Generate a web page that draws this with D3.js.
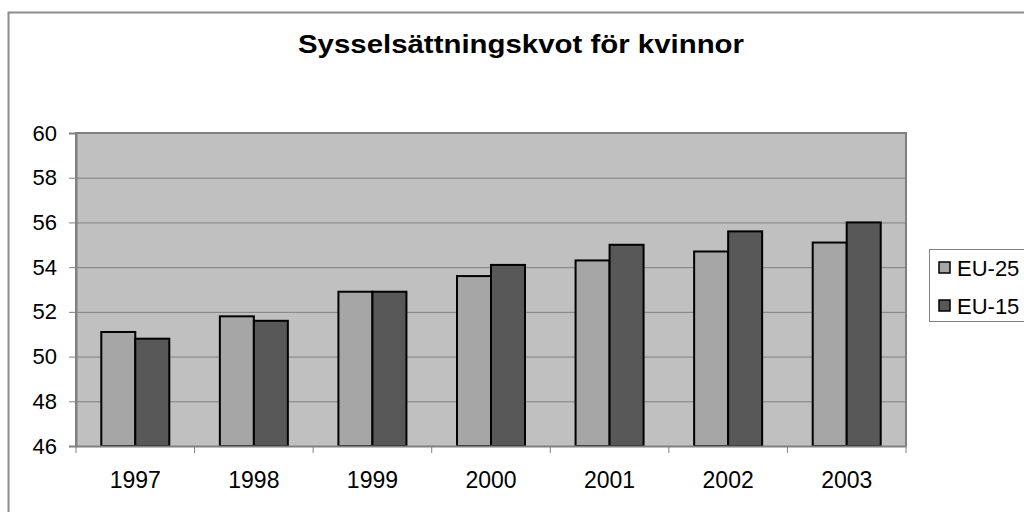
<!DOCTYPE html>
<html>
<head>
<meta charset="utf-8">
<script src="https://cdn.jsdelivr.net/npm/d3@7"></script>
<style>
  body { margin: 0; background: #fff; }
  svg { display: block; font-family: "Liberation Sans", Arial, sans-serif; }
</style>
</head>
<body>
<div id="chart"></div>
<script>
// Data
const years = ["1997", "1998", "1999", "2000", "2001", "2002", "2003"];
const seriesNames = ["EU-25", "EU-15"];
const eu25 = [51.1, 51.8, 52.9, 53.6, 54.3, 54.7, 55.1];
const eu15 = [50.8, 51.6, 52.9, 54.1, 55.0, 55.6, 56.0];
const yTicks = [46, 48, 50, 52, 54, 56, 58, 60];
const colors = ["#a6a6a6", "#585858"];

const width = 1024, height = 512;
const margin = { top: 133, right: 118, bottom: 66, left: 76 };

const rows = years.map((y, i) => ({ year: y, values: [eu25[i], eu15[i]] }));

const svg = d3.select("#chart").append("svg")
    .attr("width", width)
    .attr("height", height);

// outer chart border
svg.append("rect")
    .attr("x", 8.5).attr("y", 12.5)
    .attr("width", width + 10).attr("height", height + 10)
    .attr("fill", "none")
    .attr("stroke", "#8c8c8c")
    .attr("stroke-width", 2);

// scales
const x = d3.scaleBand().domain(years)
    .range([margin.left, width - margin.right]);

const x1 = d3.scaleBand().domain(seriesNames)
    .range([0, 68])
    .padding(0);

const y = d3.scaleLinear().domain([46, 60])
    .range([height - margin.bottom, margin.top]);

// plot area
svg.append("rect")
    .attr("x", margin.left).attr("y", margin.top)
    .attr("width", width - margin.left - margin.right)
    .attr("height", y(46) - y(60))
    .attr("fill", "#c0c0c0");

// gridlines
svg.append("g")
    .selectAll("line")
    .data(yTicks.slice(1))
    .join("line")
    .attr("x1", margin.left).attr("x2", width - margin.right)
    .attr("y1", d => y(d) + 0.5).attr("y2", d => y(d) + 0.5)
    .attr("stroke", "#808080")
    .attr("stroke-width", 1);

// bars
const groups = svg.append("g")
    .selectAll("g")
    .data(rows)
    .join("g")
    .attr("transform", d => `translate(${x(d.year) + (x.bandwidth() - 68) / 2},0)`);

groups.selectAll("rect")
    .data(d => d.values.map((v, i) => ({ key: seriesNames[i], value: v, i: i })))
    .join("rect")
    .attr("x", d => x1(d.key))
    .attr("y", d => y(d.value))
    .attr("width", x1.bandwidth())
    .attr("height", d => y(46) - y(d.value))
    .attr("fill", d => colors[d.i])
    .attr("stroke", "#000")
    .attr("stroke-width", 2);

// plot area frame (left/top/right gray)
svg.append("path")
    .attr("d", `M${margin.left},${y(46)}V${margin.top}H${width - margin.right}V${y(46)}`)
    .attr("fill", "none")
    .attr("stroke", "#808080")
    .attr("stroke-width", 2);

// y axis
const yAxis = svg.append("g")
    .attr("transform", `translate(${margin.left},0)`)
    .call(d3.axisLeft(y).tickValues(yTicks).tickSize(7).tickPadding(12).tickFormat(d3.format("d")));
yAxis.select(".domain").attr("stroke", "#808080").attr("stroke-width", 2);
yAxis.selectAll(".tick line").attr("stroke", "#808080");
yAxis.selectAll(".tick text")
    .attr("font-size", 22)
    .attr("font-family", "Liberation Sans, Arial, sans-serif")
    .attr("fill", "#000");

// x axis
const xAxis = svg.append("g")
    .attr("transform", `translate(0,${y(46)})`)
    .call(d3.axisBottom(x).tickSize(0).tickPadding(26));
xAxis.select(".domain").attr("stroke", "#808080").attr("stroke-width", 2);
xAxis.selectAll(".tick text")
    .attr("font-size", 23)
    .attr("font-family", "Liberation Sans, Arial, sans-serif")
    .attr("fill", "#000");

// category boundary ticks
svg.append("g")
    .selectAll("line")
    .data(years.concat(["end"]))
    .join("line")
    .attr("x1", (d, i) => margin.left + i * x.step())
    .attr("x2", (d, i) => margin.left + i * x.step())
    .attr("y1", y(46)).attr("y2", y(46) + 7)
    .attr("stroke", "#808080")
    .attr("stroke-width", 1);

// title
svg.append("text")
    .attr("x", 521)
    .attr("y", 53)
    .attr("text-anchor", "middle")
    .attr("font-size", 25)
    .attr("font-weight", "bold")
    .attr("fill", "#000")
    .attr("textLength", 446)
    .attr("lengthAdjust", "spacingAndGlyphs")
    .text("Sysselsättningskvot för kvinnor");

// legend
const legend = svg.append("g").attr("transform", "translate(929,249)");
legend.append("rect")
    .attr("x", 0.5).attr("y", 0.5)
    .attr("width", 120).attr("height", 72)
    .attr("fill", "#fff")
    .attr("stroke", "#808080");

const items = legend.selectAll("g")
    .data(seriesNames)
    .join("g")
    .attr("transform", (d, i) => `translate(0,${18.5 + i * 38})`);

items.append("rect")
    .attr("x", 10).attr("y", -5.5)
    .attr("width", 11).attr("height", 11)
    .attr("fill", (d, i) => colors[i])
    .attr("stroke", "#000")
    .attr("stroke-width", 1.5);

items.append("text")
    .attr("x", 28).attr("y", 8)
    .attr("font-size", 22)
    .attr("fill", "#000")
    .text(d => d);
</script>
</body>
</html>
